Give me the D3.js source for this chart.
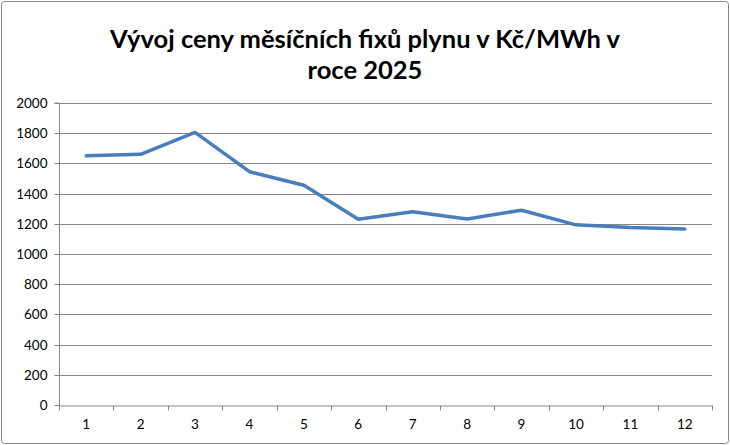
<!DOCTYPE html>
<html><head><meta charset="utf-8">
<script src="https://cdn.jsdelivr.net/npm/d3@7"></script>
<style>body{margin:0;background:#fff}svg{display:block}</style>
</head><body>
<svg id="c" width="730" height="445"></svg>
<script>
const months = ["1","2","3","4","5","6","7","8","9","10","11","12"];
const prices = [1650, 1660, 1805, 1545, 1455, 1230, 1280, 1232, 1290, 1193, 1175, 1166];
const yTicks = [0,200,400,600,800,1000,1200,1400,1600,1800,2000];
const titleLines = ["Vývoj ceny měsíčních fixů plynu v Kč/MWh v", "roce 2025"];

const svg = d3.select("#c");
const W = 730, H = 445;
const m = {left: 59, right: 18, top: 103, bottom: 40};
const font = "Lato, 'Open Sans', sans-serif";

svg.append("rect").attr("x",1.5).attr("y",1.5).attr("width",W-3).attr("height",H-3)
  .attr("rx",3).attr("fill","#fff").attr("stroke","#868686").attr("stroke-width",1);

const x = d3.scaleBand().domain(months).range([m.left, W-m.right]);
const y = d3.scaleLinear().domain([0,2000]).range([H-m.bottom, m.top]);

// gridlines
svg.append("g").selectAll("line").data(yTicks.filter(d=>d>0)).join("line")
  .attr("x1", m.left).attr("x2", W-m.right)
  .attr("y1", d=>Math.round(y(d))+0.5).attr("y2", d=>Math.round(y(d))+0.5)
  .attr("stroke","#878787").attr("stroke-width",1);

// y axis
const ya = svg.append("g").attr("transform",`translate(${m.left+0.5},0)`)
  .call(d3.axisLeft(y).tickValues(yTicks).tickSize(5).tickPadding(7).tickFormat(d3.format("d")));
ya.select(".domain").attr("stroke","#878787").attr("d",`M-5,${y(2000)}H0V${y(0)}`);
ya.selectAll(".tick line").attr("stroke","#878787");
ya.selectAll(".tick").attr("transform", d=>`translate(0,${Math.round(y(d))+0.5})`);
ya.selectAll("text").attr("font-family",font).attr("font-size",13.5).attr("fill","#000");

// x axis
const xa = svg.append("g").attr("transform",`translate(0,${Math.round(y(0))+0.5})`)
  .call(d3.axisBottom(x).tickSize(0).tickPadding(14));
xa.select(".domain").attr("stroke","#878787");
xa.selectAll("text").attr("font-family",font).attr("font-size",13.5).attr("fill","#000");
const bounds = months.map(d=>x(d)).concat([x(months[months.length-1])+x.bandwidth()]);
xa.append("g").selectAll("line").data(bounds).join("line")
  .attr("x1",d=>Math.round(d)+0.5).attr("x2",d=>Math.round(d)+0.5).attr("y1",0).attr("y2",5)
  .attr("stroke","#878787");

// line
const line = d3.line().x((d,i)=>x(months[i])+x.bandwidth()/2).y(d=>y(d));
svg.append("path").datum(prices).attr("d",line).attr("fill","none")
  .attr("stroke","#4a7ebb").attr("stroke-width",3.5).attr("stroke-linejoin","round").attr("stroke-linecap","round");

// title
svg.append("g").selectAll("text").data(titleLines).join("text")
  .attr("x", W/2).attr("y",(d,i)=>48+i*31).attr("text-anchor","middle")
  .attr("font-family",font).attr("font-weight","bold").attr("font-size",25.5).attr("fill","#000")
  .text(d=>d);
</script>
</body></html>
